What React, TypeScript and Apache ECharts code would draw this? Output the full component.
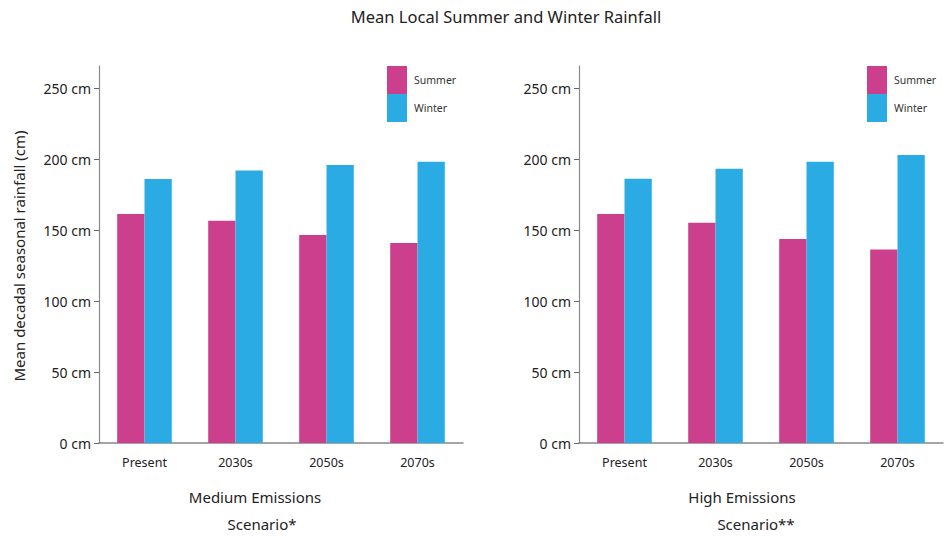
import React, { useEffect, useRef } from "react";
import * as echarts from "echarts";

const categories = ["Present", "2030s", "2050s", "2070s"];
const mediumSummer = [161.5, 156.8, 146.7, 141.2];
const mediumWinter = [186.3, 192.3, 196.1, 198.4];
const highSummer = [161.5, 155.4, 143.9, 136.5];
const highWinter = [186.4, 193.5, 198.4, 203.2];
const seriesNames = ["Summer", "Winter"];
const colors = ["#cc3f8d", "#2babe3"];
const titleText = "Mean Local Summer and Winter Rainfall";
const yAxisTitle = "Mean decadal seasonal rainfall (cm)";

const FONT = "'Noto Sans', 'Open Sans', sans-serif";

export default function App() {
  const ref = useRef<HTMLDivElement>(null);
  useEffect(() => {
    if (!ref.current) return;
    const chart = echarts.init(ref.current, undefined, { renderer: "svg" });
    const yAxisCommon = (gridIndex: number) => ({
      type: "value",
      gridIndex,
      min: 0,
      max: 266,
      interval: 50,
      axisLine: { show: true, lineStyle: { color: "#888", width: 1.2 } },
      axisTick: { show: true, length: 5, lineStyle: { color: "#666" } },
      splitLine: { show: false },
      axisLabel: {
        formatter: "{value} cm",
        color: "#222",
        fontSize: 14,
        fontFamily: FONT,
        margin: 8,
        showMaxLabel: false,
      },
    });
    const xAxisCommon = (gridIndex: number) => ({
      type: "category",
      gridIndex,
      data: categories,
      axisLine: { show: true, lineStyle: { color: "#888", width: 1.5 } },
      axisTick: { show: false },
      axisLabel: { color: "#222", fontSize: 12.5, fontFamily: FONT, margin: 13 },
    });
    const legendCommon = (left: number) => ({
      data: seriesNames,
      orient: "vertical",
      left,
      top: 66,
      padding: 0,
      itemWidth: 20,
      itemHeight: 28,
      itemGap: 0,
      icon: "rect",
      textStyle: { fontSize: 10.5, color: "#333", fontFamily: FONT, padding: [0, 0, 0, 2] },
    });
    const barSeries = (name: string, data: number[], idx: number, color: string) => ({
      name,
      type: "bar",
      data,
      xAxisIndex: idx,
      yAxisIndex: idx,
      barWidth: "30%",
      barGap: "0%",
      itemStyle: { color },
    });
    chart.setOption({
      animation: false,
      backgroundColor: "#fff",
      grid: [
        { left: 99, right: 488, top: 66, bottom: 93 },
        { left: 579, right: 8, top: 66, bottom: 93 },
      ],
      xAxis: [xAxisCommon(0), xAxisCommon(1)],
      yAxis: [yAxisCommon(0), yAxisCommon(1)],
      legend: [legendCommon(387), legendCommon(867)],
      series: [
        barSeries(seriesNames[0], mediumSummer, 0, colors[0]),
        barSeries(seriesNames[1], mediumWinter, 0, colors[1]),
        barSeries(seriesNames[0], highSummer, 1, colors[0]),
        barSeries(seriesNames[1], highWinter, 1, colors[1]),
      ],
      graphic: [
        {
          type: "text",
          x: 506,
          y: 16,
          style: {
            text: titleText,
            fontSize: 16.5,
            fontFamily: FONT,
            fill: "#222",
            textAlign: "center",
            textVerticalAlign: "middle",
          },
        },
        {
          type: "text",
          x: 19,
          y: 256,
          rotation: Math.PI / 2,
          style: {
            text: yAxisTitle,
            fontSize: 15,
            fontFamily: FONT,
            fill: "#222",
            textAlign: "center",
            textVerticalAlign: "middle",
          },
        },
        {
          type: "text",
          x: 255,
          y: 497,
          style: { text: "Medium Emissions", fontSize: 15, fontFamily: FONT, fill: "#222", textAlign: "center", textVerticalAlign: "middle" },
        },
        {
          type: "text",
          x: 262,
          y: 524,
          style: { text: "Scenario*", fontSize: 15, fontFamily: FONT, fill: "#222", textAlign: "center", textVerticalAlign: "middle" },
        },
        {
          type: "text",
          x: 742,
          y: 497,
          style: { text: "High Emissions", fontSize: 15, fontFamily: FONT, fill: "#222", textAlign: "center", textVerticalAlign: "middle" },
        },
        {
          type: "text",
          x: 756,
          y: 524,
          style: { text: "Scenario**", fontSize: 15, fontFamily: FONT, fill: "#222", textAlign: "center", textVerticalAlign: "middle" },
        },
      ],
    });
    return () => chart.dispose();
  }, []);
  return <div ref={ref} style={{ width: 951, height: 536, position: "absolute", left: 0, top: 0 }} />;
}
